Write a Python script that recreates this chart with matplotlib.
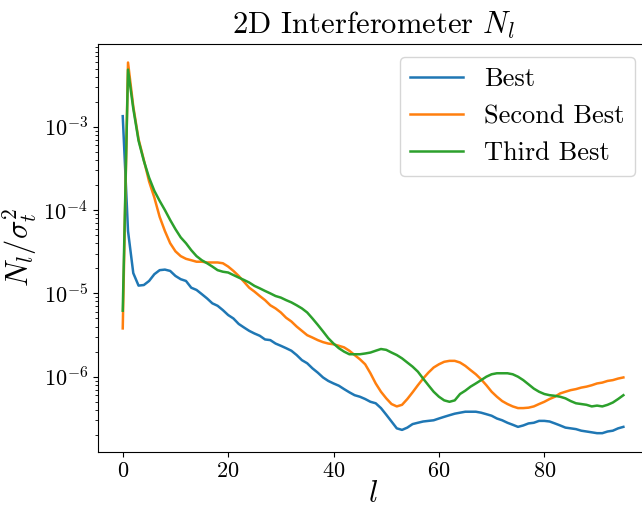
import matplotlib
matplotlib.use("Agg")
import matplotlib.pyplot as plt
import numpy as np

plt.rcParams['font.family'] = 'serif'
plt.rcParams['font.serif'] = ['cmr10', 'DejaVu Serif']
plt.rcParams['mathtext.fontset'] = 'cm'
plt.rcParams['axes.formatter.use_mathtext'] = True
plt.rcParams['axes.unicode_minus'] = True

l = list(range(96))

best = [1.34e-3, 5.6e-5, 1.75e-5, 1.24e-5, 1.26e-5, 1.41e-5, 1.7e-5, 1.9e-5, 1.93e-5, 1.86e-5,
        1.62e-5, 1.48e-5, 1.41e-5, 1.17e-5, 1.1e-5, 9.8e-6, 8.7e-6, 7.6e-6, 7.1e-6, 6.3e-6,
        5.5e-6, 5.0e-6, 4.3e-6, 3.9e-6, 3.55e-6, 3.3e-6, 3.1e-6, 2.8e-6, 2.75e-6, 2.5e-6,
        2.35e-6, 2.2e-6, 2.05e-6, 1.82e-6, 1.58e-6, 1.45e-6, 1.26e-6, 1.12e-6, 9.8e-7, 8.9e-7,
        8.3e-7, 7.8e-7, 7.1e-7, 6.5e-7, 6.0e-7, 5.75e-7, 5.4e-7, 5.0e-7, 4.8e-7, 4.2e-7,
        3.5e-7, 2.9e-7, 2.4e-7, 2.3e-7, 2.45e-7, 2.7e-7, 2.8e-7, 2.9e-7, 2.95e-7, 3.0e-7,
        3.15e-7, 3.3e-7, 3.45e-7, 3.6e-7, 3.7e-7, 3.8e-7, 3.8e-7, 3.8e-7, 3.7e-7, 3.55e-7,
        3.4e-7, 3.15e-7, 3.0e-7, 2.8e-7, 2.65e-7, 2.5e-7, 2.6e-7, 2.75e-7, 2.8e-7, 2.95e-7,
        2.95e-7, 2.9e-7, 2.75e-7, 2.6e-7, 2.45e-7, 2.4e-7, 2.35e-7, 2.25e-7, 2.2e-7, 2.15e-7,
        2.1e-7, 2.1e-7, 2.2e-7, 2.25e-7, 2.4e-7, 2.5e-7]

second_best = [3.8e-6, 5.9e-3, 1.75e-3, 7.1e-4, 4.0e-4, 2.2e-4, 1.41e-4, 8.3e-5, 5.6e-5, 4.0e-5,
               3.2e-5, 2.8e-5, 2.6e-5, 2.5e-5, 2.4e-5, 2.4e-5, 2.35e-5, 2.35e-5, 2.35e-5, 2.3e-5,
               2.1e-5, 1.86e-5, 1.62e-5, 1.38e-5, 1.17e-5, 1.05e-5, 9.3e-6, 8.3e-6, 7.2e-6, 6.6e-6,
               5.9e-6, 5.1e-6, 4.6e-6, 4.0e-6, 3.55e-6, 3.15e-6, 2.95e-6, 2.75e-6, 2.6e-6, 2.5e-6,
               2.45e-6, 2.35e-6, 2.25e-6, 2.05e-6, 1.82e-6, 1.62e-6, 1.41e-6, 1.1e-6, 8.3e-7, 6.6e-7,
               5.5e-7, 4.7e-7, 4.4e-7, 4.6e-7, 5.4e-7, 6.5e-7, 7.9e-7, 9.5e-7, 1.12e-6, 1.29e-6,
               1.41e-6, 1.51e-6, 1.55e-6, 1.55e-6, 1.48e-6, 1.35e-6, 1.2e-6, 1.07e-6, 9.3e-7, 7.9e-7,
               6.6e-7, 5.75e-7, 5.1e-7, 4.7e-7, 4.4e-7, 4.2e-7, 4.2e-7, 4.25e-7, 4.4e-7, 4.7e-7,
               5.0e-7, 5.4e-7, 5.75e-7, 6.3e-7, 6.6e-7, 6.9e-7, 7.1e-7, 7.4e-7, 7.6e-7, 7.9e-7,
               8.3e-7, 8.5e-7, 8.9e-7, 9.1e-7, 9.5e-7, 9.8e-7]

third_best = [6.2e-6, 4.85e-3, 1.65e-3, 6.8e-4, 3.9e-4, 2.45e-4, 1.7e-4, 1.29e-4, 1.0e-4, 7.6e-5,
              5.9e-5, 4.7e-5, 4.0e-5, 3.3e-5, 2.8e-5, 2.5e-5, 2.3e-5, 2.1e-5, 1.9e-5, 1.82e-5,
              1.78e-5, 1.66e-5, 1.55e-5, 1.45e-5, 1.35e-5, 1.23e-5, 1.15e-5, 1.07e-5, 1.0e-5, 9.3e-6,
              8.9e-6, 8.3e-6, 7.8e-6, 7.2e-6, 6.6e-6, 5.9e-6, 5.0e-6, 4.2e-6, 3.5e-6, 2.9e-6,
              2.5e-6, 2.2e-6, 2.0e-6, 1.86e-6, 1.86e-6, 1.86e-6, 1.9e-6, 1.95e-6, 2.05e-6, 2.15e-6,
              2.1e-6, 1.95e-6, 1.82e-6, 1.66e-6, 1.48e-6, 1.32e-6, 1.15e-6, 9.5e-7, 7.9e-7, 6.6e-7,
              5.75e-7, 5.2e-7, 5.0e-7, 5.2e-7, 6.2e-7, 6.8e-7, 7.6e-7, 8.3e-7, 9.1e-7, 1.0e-6,
              1.07e-6, 1.1e-6, 1.1e-6, 1.1e-6, 1.07e-6, 1.0e-6, 9.1e-7, 8.1e-7, 7.2e-7, 6.6e-7,
              6.2e-7, 6.0e-7, 5.9e-7, 5.75e-7, 5.5e-7, 5.1e-7, 4.8e-7, 4.7e-7, 4.6e-7, 4.4e-7,
              4.5e-7, 4.4e-7, 4.6e-7, 4.9e-7, 5.4e-7, 6.0e-7]

labels = ['Best', 'Second Best', 'Third Best']

fig = plt.figure(figsize=(6.42, 5.08), dpi=100)
ax = fig.add_axes([0.1522, 0.1108, 0.8578, 0.8026])

for series, lab in zip([best, second_best, third_best], labels):
    ax.plot(l, series, label=lab, linewidth=1.8)

ax.set_yscale('log')
ax.set_title(r'2D Interferometer $N_l$', fontsize=22, pad=7)
ax.set_xlabel(r'$l$', fontsize=22, labelpad=0)
ax.set_ylabel(r'$N_l/\sigma_t^2$', fontsize=22, labelpad=3)
ax.tick_params(labelsize=16)
ax.set_xticks([0, 20, 40, 60, 80])
ax.legend(loc='upper right', fontsize=19)

fig.savefig('out.png', dpi=100)
